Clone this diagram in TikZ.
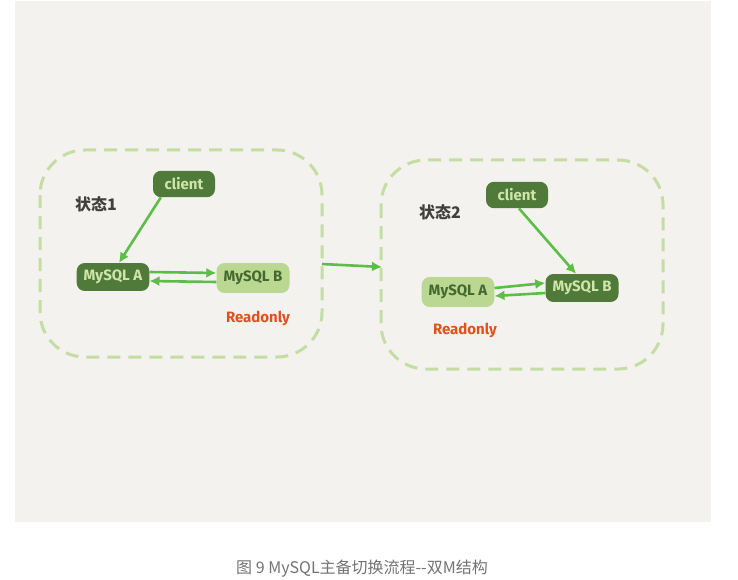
\documentclass[tikz,border=0pt]{standalone}
\usepackage{fontspec}
\setmainfont{Fira Sans}
\newfontfamily\cjk{Noto Sans CJK SC}
\usepackage{tikz}
\usetikzlibrary{positioning, arrows.meta}
\definecolor{paper}{HTML}{F3F2EE}
\definecolor{darkleaf}{HTML}{4F7A39}
\definecolor{paleleaf}{HTML}{BBD893}
\definecolor{lineleaf}{HTML}{5CBD47}
\definecolor{dashleaf}{HTML}{C4DDA3}
\definecolor{textleaf}{HTML}{CFE6A8}
\definecolor{inkleaf}{HTML}{44692F}
\definecolor{rust}{HTML}{E0521C}

\begin{document}
\begin{tikzpicture}
        [
            x=1pt, y=-1pt,
            master/.style={fill=darkleaf, text=textleaf, rounded corners=8pt, font=\bfseries\fontsize{15}{15}\selectfont, inner xsep=7pt, inner ysep=7pt},
            standby/.style={fill=paleleaf, text=inkleaf, rounded corners=8pt, font=\bfseries\fontsize{15}{15}\selectfont, inner xsep=7pt, inner ysep=8pt},
            caller/.style={master, minimum width=62pt},
            state/.style={draw=dashleaf, line width=3pt, dash pattern=on 13pt off 8pt, rounded corners=45pt},
            flow/.style={draw=lineleaf, line width=2.6pt, -{Latex[length=10pt,width=10pt]}},
            tag/.style={text=rust, font=\bfseries\fontsize{15}{15}\selectfont},
            label/.style={text=black!75, font=\cjk\bfseries\fontsize{16}{16}\selectfont},
        ]
        \useasboundingbox (0,0) rectangle (738,580);
        \fill[paper] (15,1) rectangle (711,522);

        % state 1
        \draw[state] (40,150) rectangle (322,357);
        \node[label] (label1) at (96,204) {状态1};
        \node[caller] (client1) at (184,184) {client};
        \node[master] (a1) at (113,277) {MySQL A};
        \node[standby] (b1) at (253,278) {MySQL B};
        \node[tag] (ro1) at (258,318) {Readonly};
        \draw[flow] (client1.south west) ++(8,0) -- ([xshift=6pt]a1.north);
        \draw[flow] ([yshift=5pt]a1.east) -- ([yshift=5pt]b1.west);
        \draw[flow] ([yshift=-4pt]b1.west) -- ([yshift=-4pt]a1.east);

        % switch
        \coordinate (out1) at (322,264);
        \coordinate (in2) at (382,267);
        \draw[flow] (out1) -- (in2);

        % state 2
        \draw[state] (381,160) rectangle (663,369);
        \node[label] (label2) at (440,212) {状态2};
        \node[caller] (client2) at (517,195) {client};
        \node[standby] (a2) at (458,292) {MySQL A};
        \node[master] (b2) at (582,288) {MySQL B};
        \node[tag] (ro2) at (465,330) {Readonly};
        \draw[flow] (client2.south) ++(2,0) -- ([xshift=-6pt]b2.north);
        \draw[flow] ([yshift=4pt]a2.east) -- ([yshift=5pt]b2.west);
        \draw[flow] ([yshift=-5pt]b2.west) -- ([yshift=-4pt]a2.east);

        % caption
        \node[text=black!55, font=\cjk\fontsize{16}{16}\selectfont] (caption) at (362,569) {图 9 MySQL主备切换流程--双M结构};
\end{tikzpicture}
\end{document}
